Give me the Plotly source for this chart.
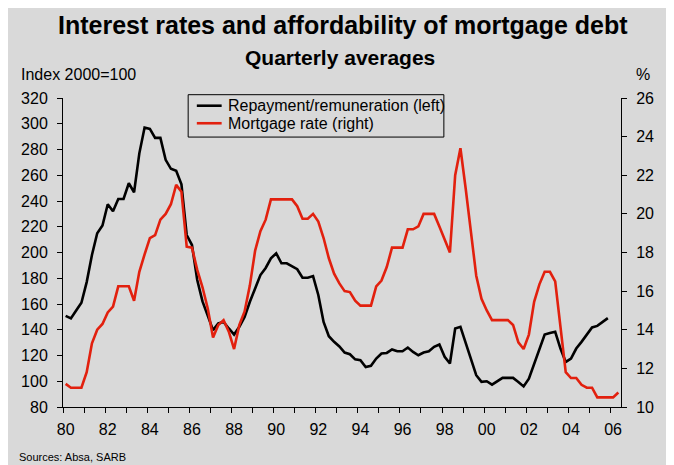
import plotly.graph_objects as go
import pandas as pd

# ---------------- data ----------------
quarters = pd.period_range("1980Q1", "2006Q2", freq="Q")

mortgage_rate = [
    11.2, 11.0, 11.0, 11.0,
    11.8, 13.3, 14.0, 14.3,
    14.9, 15.2, 16.25, 16.25,
    16.25, 15.5, 17.0, 17.9,
    18.75, 18.9, 19.7, 20.0,
    20.5, 21.5, 21.15, 18.3,
    18.25, 17.1, 16.2, 15.1,
    13.6, 14.25, 14.5, 13.9,
    13.0, 14.25, 14.95, 16.3,
    18.1, 19.1, 19.7, 20.75,
    20.75, 20.75, 20.75, 20.75,
    20.4, 19.75, 19.75, 20.0,
    19.6, 18.75, 17.7, 16.9,
    16.4, 16.0, 15.95, 15.5,
    15.25, 15.25, 15.25, 16.25,
    16.55, 17.25, 18.25, 18.25,
    18.25, 19.2, 19.2, 19.35,
    20.0, 20.0, 20.0, 19.35,
    18.7, 18.0, 22.0, 23.4,
    21.3, 19.2, 16.8, 15.6,
    15.0, 14.5, 14.5, 14.5,
    14.5, 14.25, 13.35, 13.0,
    13.75, 15.45, 16.35, 17.0,
    17.0, 16.5, 14.25, 11.8,
    11.5, 11.5, 11.15, 11.0,
    11.0, 10.5, 10.5, 10.5,
    10.5, 10.75,
]

repayment = [
    150.8, 148.8, 155, 161,
    177, 198, 215, 221,
    237.5, 232, 241.6, 241.6,
    253.8, 246.8, 277, 297,
    296, 289, 289, 272,
    265, 263.4, 253, 213.6,
    205.8, 178.6, 162, 151.4,
    139.7, 144.9, 146, 141,
    136.3, 142.3, 150, 161.7,
    172, 182.5, 188, 195.5,
    199.4, 191.6, 191.6, 189,
    187, 180.4, 180.4, 181.7,
    167, 146, 135, 130.6,
    127, 122.3, 121, 117,
    116.3, 111, 112, 117.6,
    121.5, 122, 124.7, 123.3,
    123.3, 126.2, 122.8, 120.2,
    122.3, 123.3, 126.7, 128.5,
    119, 113.8, 141, 142.3,
    129.3, 116.3, 104.7, 99.5,
    100, 97.4, 100, 102.6,
    102.6, 102.6, 99.5, 96,
    102, 113.8, 124, 136.3,
    137.4, 138.4, 125.4, 115,
    117.6, 125.4, 130.6, 136.3,
    141.8, 143, 146, 149,
]

series_names = ["Repayment/remuneration (left)", "Mortgage rate (right)"]

year_labels = ["80", "82", "84", "86", "88", "90", "92", "94", "96", "98",
               "00", "02", "04", "06"]
label_years = [1980, 1982, 1984, 1986, 1988, 1990, 1992, 1994, 1996, 1998,
               2000, 2002, 2004, 2006]

# quarter midpoints in decimal years (category centres)
x_all = [q.year + (q.quarter - 0.5) / 4 for q in quarters]
x_rate = x_all[:len(mortgage_rate)]
x_rep = x_all[:len(repayment)]

# ---------------- layout geometry ----------------
# page is offset by the 8px default body margin
OFF = 8
W, H = 658, 457
L, R, T, B = 63.3 - OFF, 625.0 - OFF, 98.3 - OFF, 406.7 - OFF
pw, ph = R - L, B - T


def px(x):  # page x -> paper x
    return (x - OFF - L) / pw


def py(y):  # page y -> paper y
    return (B - (y - OFF)) / ph


GRAY = "#D9D9D9"
RED = "#E2200E"
FONT = "Liberation Sans, Arial, sans-serif"
colors = ["black", RED]

fig = go.Figure()
fig.add_trace(go.Scatter(
    x=x_rep, y=repayment, mode="lines", name=series_names[0],
    line=dict(color=colors[0], width=2.6), yaxis="y"))
fig.add_trace(go.Scatter(
    x=x_rate, y=mortgage_rate, mode="lines", name=series_names[1],
    line=dict(color=colors[1], width=2.6), yaxis="y2"))

# legend drawn as box + sample lines + text (Excel-style compact legend)
shapes = [dict(type="rect", xref="paper", yref="paper",
               x0=px(189.3), x1=px(446.7), y0=py(137.3), y1=py(95),
               line=dict(color="black", width=1), fillcolor=GRAY)]
annotations = []
for k, (name, col, yy) in enumerate(zip(series_names, colors, [106, 123.5])):
    shapes.append(dict(type="line", xref="paper", yref="paper",
                       x0=px(198), x1=px(223), y0=py(yy), y1=py(yy),
                       line=dict(color=col, width=2.6)))
    annotations.append(dict(text=name, xref="paper", yref="paper",
                            x=px(227), y=py(yy), xanchor="left",
                            yanchor="middle", showarrow=False,
                            font=dict(size=16)))

annotations += [
    dict(text="<b>Interest rates and affordability of mortgage debt</b>",
         xref="paper", yref="paper", x=px(345), y=py(25),
         xanchor="center", yanchor="middle", showarrow=False,
         font=dict(size=25)),
    dict(text="<b>Quarterly averages</b>",
         xref="paper", yref="paper", x=px(342), y=py(58),
         xanchor="center", yanchor="middle", showarrow=False,
         font=dict(size=21)),
    dict(text="Index 2000=100",
         xref="paper", yref="paper", x=px(19), y=py(75),
         xanchor="left", yanchor="middle", showarrow=False,
         font=dict(size=16)),
    dict(text="%",
         xref="paper", yref="paper", x=px(647), y=py(75),
         xanchor="center", yanchor="middle", showarrow=False,
         font=dict(size=16)),
    dict(text="Sources: Absa, SARB",
         xref="paper", yref="paper", x=px(17), y=py(457),
         xanchor="left", yanchor="middle", showarrow=False,
         font=dict(size=11)),
]

fig.update_layout(
    width=W, height=H,
    margin=dict(l=L, r=W - R, t=T, b=H - B, pad=0),
    paper_bgcolor=GRAY,
    plot_bgcolor=GRAY,
    font=dict(family=FONT, size=16, color="black"),
    showlegend=False,
    xaxis=dict(
        range=[1980, 2006.5],
        tickvals=[y + 0.125 for y in label_years], ticktext=year_labels,
        ticks="", showgrid=False, zeroline=False,
        showline=True, linecolor="black", linewidth=1,
        tickfont=dict(size=16), ticklabelstandoff=8,
        minor=dict(tickvals=list(range(1980, 2007)), ticks="outside",
                   ticklen=5, tickcolor="black", tickwidth=1, showgrid=False),
    ),
    yaxis=dict(
        range=[80, 320], dtick=20, tick0=80,
        ticks="outside", ticklen=5, tickcolor="black",
        showgrid=False, zeroline=False,
        showline=True, linecolor="black", linewidth=1,
        tickfont=dict(size=16), ticklabelstandoff=6,
    ),
    yaxis2=dict(
        range=[10, 26], dtick=2, tick0=10, overlaying="y", side="right",
        ticks="outside", ticklen=5, tickcolor="black",
        showgrid=False, zeroline=False,
        showline=True, linecolor="black", linewidth=1,
        tickfont=dict(size=16), ticklabelstandoff=6,
    ),
    shapes=shapes,
    annotations=annotations,
)

fig.write_html("out.html")
